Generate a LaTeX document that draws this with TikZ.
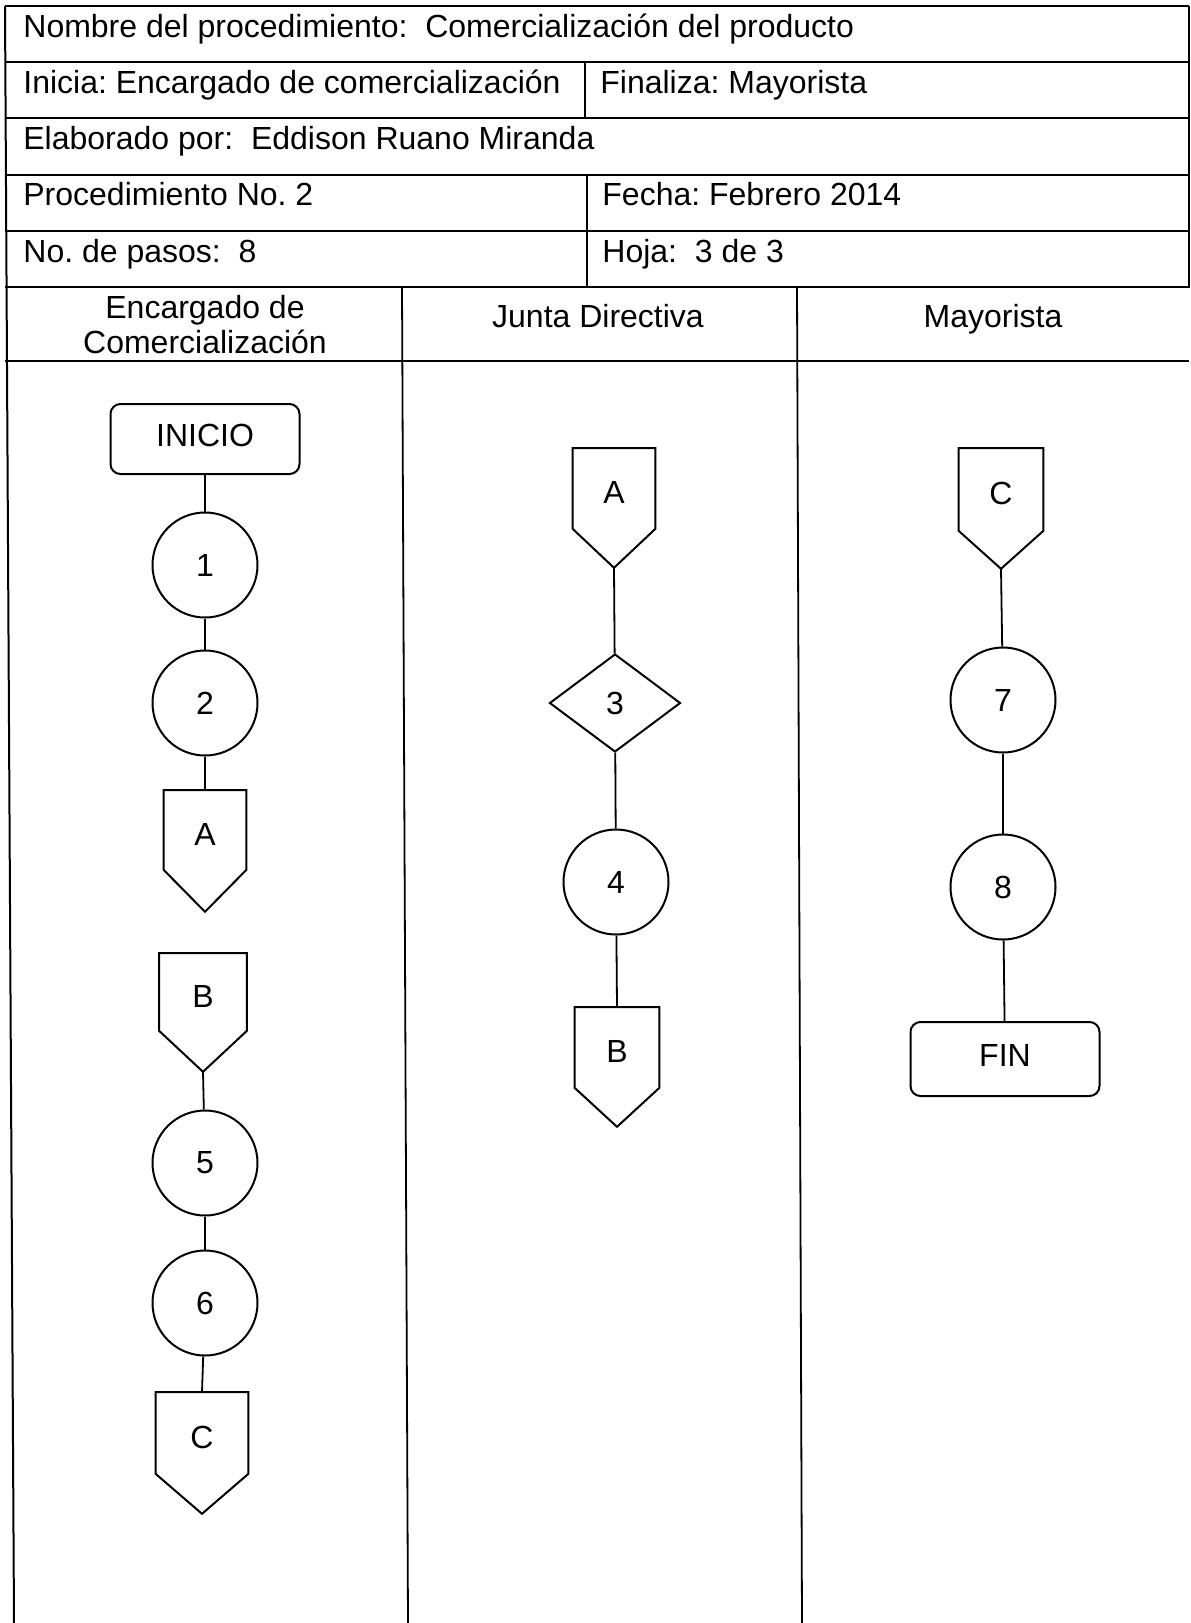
\documentclass[tikz,border=0pt]{standalone}
\usepackage{fontspec}
\setmainfont{Liberation Sans}
\usetikzlibrary{shapes.geometric,calc}

\tikzset{
  every node/.style={font=\fontsize{16pt}{18.5pt}\selectfont},
  grid line/.style={line width=1pt},
  lane line/.style={line width=0.9pt},
  fig/.style={draw, line width=1pt, inner sep=0pt},
  stepcircle/.style={fig, circle, minimum size=52.5pt},
  terminal/.style={fig, rectangle, rounded corners=5pt, minimum width=94.5pt, minimum height=#1,
    text height=11.5pt, text depth=4pt},
  terminal/.default=35pt,
  decision/.style={fig, diamond, minimum width=65.5pt, minimum height=49pt},
  opc/.style={rectangle, inner sep=0pt, text height=15.5pt, text depth=0pt},
  link/.style={line width=0.9pt},
  cell/.style={anchor=base west, inner sep=0pt},
  lanehead/.style={anchor=base, inner sep=0pt},
}

% off-page connector: name, x, top y, width, body height, tip depth, label
\newcommand\offpage[7]{%
  \node[opc, minimum width=#4, minimum height=#5, anchor=north] (#1) at (#2,#3) {#7};
  \coordinate (#1-tip) at ($(#1.south)+(0,#6)$);
  \draw[fig] (#1.north west) -- (#1.south west) -- (#1-tip) -- (#1.south east) -- (#1.north east) -- cycle;
}

\begin{document}
\frenchspacing
\begin{tikzpicture}[x=0.5pt, y=-0.5pt]
\useasboundingbox (0,0) rectangle (1190,1623);
\fill[white] (0,0) rectangle (1190,1623);

% header table
\draw[grid line] (5,6) -- (14,1623);
\draw[grid line] (1189,6) -- (1189,288);
\foreach \yy in {6,62,118,175,231,287,361}
  \draw[grid line] (5,\yy) -- (1189,\yy);
\draw[grid line] (585,62) -- (585,118);
\draw[grid line] (587,175) -- (587,287);

% swimlane dividers
\draw[lane line] (402,287) -- (408,1623);
\draw[lane line] (797,287) -- (802,1623);

% header texts
\node[cell] (nombre) at (23,37) {Nombre del procedimiento: \ Comercialización del producto};
\node[cell] (inicia) at (23,93) {Inicia: Encargado de comercialización};
\node[cell] (finaliza) at (600,93) {Finaliza: Mayorista};
\node[cell] (elaborado) at (23,149) {Elaborado por: \ Eddison Ruano Miranda};
\node[cell] (proc) at (23,205) {Procedimiento No. 2};
\node[cell] (fecha) at (602,205) {Fecha: Febrero 2014};
\node[cell] (pasos) at (23,262) {No. de pasos: \ 8};
\node[cell] (hoja) at (602,262) {Hoja: \ 3 de 3};

% lane titles
\node[lanehead] (lane1a) at (205,318) {Encargado de};
\node[lanehead] (lane1b) at (205,353) {Comercialización};
\node[lanehead] (lane2) at (598,327) {Junta Directiva};
\node[lanehead] (lane3) at (993,327) {Mayorista};

% lane 1: Encargado de Comercializacion
\node[terminal] (inicio) at (205,439) {INICIO};
\node[stepcircle] (s1) at (205,565) {1};
\node[stepcircle] (s2) at (205,703) {2};
\offpage{a1}{205}{790}{41pt}{39.5pt}{42}{A}
\offpage{b1}{203}{953}{43.5pt}{38.5pt}{41}{B}
\node[stepcircle] (s5) at (205,1163) {5};
\node[stepcircle] (s6) at (205,1303) {6};
\offpage{c1}{202}{1392}{46pt}{40.5pt}{40}{C}

% lane 2: Junta Directiva
\offpage{a2}{614}{448}{41pt}{40pt}{39}{A}
\node[decision] (s3) at (615,703) {3};
\node[stepcircle] (s4) at (616,882) {4};
\offpage{b2}{617}{1007}{42pt}{40pt}{39}{B}

% lane 3: Mayorista
\offpage{c3}{1001}{448}{42pt}{41pt}{38}{C}
\node[stepcircle] (s7) at (1003,700) {7};
\node[stepcircle] (s8) at (1003,887) {8};
\node[terminal=37pt] (fin) at (1005,1059) {FIN};

% connectors
\draw[link] (inicio) -- (s1);
\draw[link] (s1) -- (s2);
\draw[link] (s2) -- (a1.north);
\draw[link] (b1-tip) -- (s5);
\draw[link] (s5) -- (s6);
\draw[link] (s6) -- (c1.north);
\draw[link] (a2-tip) -- (s3);
\draw[link] (s3) -- (s4);
\draw[link] (s4) -- (b2.north);
\draw[link] (c3-tip) -- (s7);
\draw[link] (s7) -- (s8);
\draw[link] (s8) -- (fin);
\end{tikzpicture}
\end{document}
